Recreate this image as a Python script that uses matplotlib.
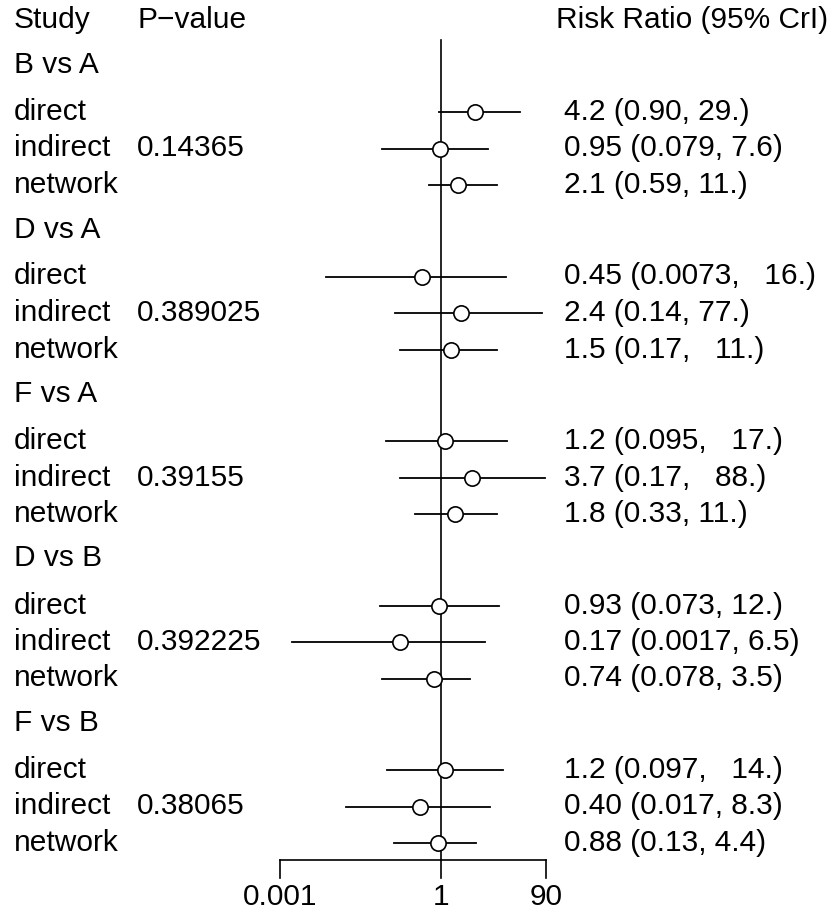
import numpy as np
import matplotlib
matplotlib.use("Agg")
import matplotlib.pyplot as plt

plt.rcParams['font.family'] = ['Liberation Sans', 'DejaVu Sans']

# comparisons and their p-values
comparisons = ["B vs A", "D vs A", "F vs A", "D vs B", "F vs B"]
p_values = ["0.14365", "0.389025", "0.39155", "0.392225", "0.38065"]
evidence = ["direct", "indirect", "network"]

# risk ratio estimates (direct, indirect, network) per comparison
est = [[4.2, 0.95, 2.1],
       [0.45, 2.4, 1.5],
       [1.2, 3.7, 1.8],
       [0.93, 0.17, 0.74],
       [1.2, 0.40, 0.88]]
lower = [[0.90, 0.079, 0.59],
         [0.0073, 0.14, 0.17],
         [0.095, 0.17, 0.33],
         [0.073, 0.0017, 0.078],
         [0.097, 0.017, 0.13]]
upper = [[29., 7.6, 11.],
         [16., 77., 11.],
         [17., 88., 11.],
         [12., 6.5, 3.5],
         [14., 8.3, 4.4]]
ci_labels = [["4.2 (0.90, 29.)", "0.95 (0.079, 7.6)", "2.1 (0.59, 11.)"],
             ["0.45 (0.0073,   16.)", "2.4 (0.14, 77.)", "1.5 (0.17,   11.)"],
             ["1.2 (0.095,   17.)", "3.7 (0.17,   88.)", "1.8 (0.33, 11.)"],
             ["0.93 (0.073, 12.)", "0.17 (0.0017, 6.5)", "0.74 (0.078, 3.5)"],
             ["1.2 (0.097,   14.)", "0.40 (0.017, 8.3)", "0.88 (0.13, 4.4)"]]
x_ticks = [0.001, 1, 90]
x_tick_labels = ["0.001", "1", "90"]

W, H = 836, 917
fig = plt.figure(figsize=(W / 100, H / 100), dpi=100)

# text layer in pixel coordinates
tax = fig.add_axes([0, 0, 1, 1])
tax.set_xlim(0, W)
tax.set_ylim(H, 0)
tax.axis('off')

# forest layer, log scale
left_px, right_px = 280, 546
fax = fig.add_axes([left_px / W, 0, (right_px - left_px) / W, 1])
fax.set_xscale('log')
fax.set_xlim(x_ticks[0], x_ticks[-1])
fax.set_ylim(H, 0)
fax.axis('off')

fs = 21.5
col_study, col_p, col_head, col_ci = 14, 137, 556, 564
header_y = 20
first_group = 65
group_gap = 47
row_gap = 36.5
next_gap = 44.5

tax.text(col_study, header_y, "Study", fontsize=fs, va='center')
tax.text(col_p, header_y, "P\u2212value", fontsize=fs, va='center')
tax.text(col_head, header_y, "Risk Ratio (95% CrI)", fontsize=fs, va='center')

y = first_group
for i, comp in enumerate(comparisons):
    tax.text(col_study, y, comp, fontsize=fs, va='center')
    ry = y + group_gap
    for j, ev in enumerate(evidence):
        tax.text(col_study, ry, ev, fontsize=fs, va='center')
        if ev == "indirect":
            tax.text(col_p, ry, p_values[i], fontsize=fs, va='center')
        tax.text(col_ci, ry, ci_labels[i][j], fontsize=fs, va='center')
        fax.plot([lower[i][j], upper[i][j]], [ry, ry], color='black', lw=1.3,
                 clip_on=False, zorder=2)
        fax.plot(est[i][j], ry, 'o', ms=11, mfc='white', mec='black', mew=1.2,
                 clip_on=False, zorder=3)
        ry += row_gap
    y = ry - row_gap + next_gap

# reference line and x axis
axis_y = 860
fax.plot([1, 1], [40, axis_y], color='black', lw=1.2, clip_on=False, zorder=1)
fax.plot([x_ticks[0], x_ticks[-1]], [axis_y, axis_y], color='black', lw=1.2, clip_on=False)
for t, lab in zip(x_ticks, x_tick_labels):
    fax.plot([t, t], [axis_y, axis_y + 18], color='black', lw=1.2, clip_on=False)
    fax.text(t, 897, lab, fontsize=fs, ha='center', va='center')

fig.savefig("out.png", dpi=100, facecolor='white')
